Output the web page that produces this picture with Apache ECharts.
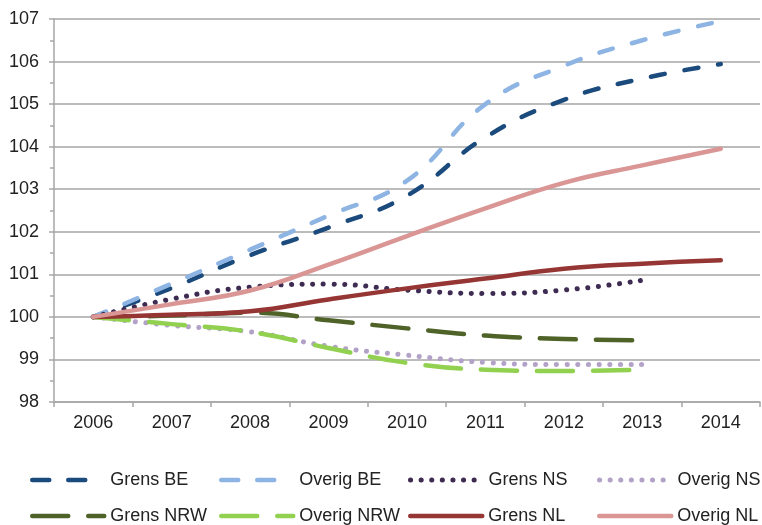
<!DOCTYPE html>
<html>
<head>
<meta charset="utf-8">
<script src="https://cdn.jsdelivr.net/npm/echarts@6/dist/echarts.min.js"></script>
<style>
  html, body { margin: 0; padding: 0; background: #fff; }
  #chart { width: 762px; height: 525px; }
</style>
</head>
<body>
<div id="chart"></div>
<script>
// Index (2006 = 100) per region
const years = ['2006', '2007', '2008', '2009', '2010', '2011', '2012', '2013', '2014'];
const yTicks = [98, 107, 1];

const grensBE   = [100, 100.68, 101.45, 102.1, 102.85, 104.22, 105.1, 105.6, 105.94];
const overigBE  = [100, 100.78, 101.58, 102.38, 103.2, 105.0, 105.9, 106.5, 106.95];
const grensNS   = [100, 100.42, 100.7, 100.77, 100.63, 100.55, 100.63, 100.86, null];
const overigNS  = [100, 99.8, 99.65, 99.31, 99.1, 98.93, 98.88, 98.88, null];
const grensNRW  = [100, 100.03, 100.1, 99.92, 99.73, 99.56, 99.48, 99.45, null];
const overigNRW = [100, 99.83, 99.65, 99.27, 98.92, 98.76, 98.73, 98.76, null];
const grensNL   = [100, 100.05, 100.13, 100.41, 100.67, 100.9, 101.13, 101.25, 101.33];
const overigNL  = [100, 100.3, 100.62, 101.23, 101.9, 102.55, 103.15, 103.56, 103.95];

const names = ['Grens BE', 'Overig BE', 'Grens NS', 'Overig NS',
               'Grens NRW', 'Overig NRW', 'Grens NL', 'Overig NL'];
const values = [grensBE, overigBE, grensNS, overigNS, grensNRW, overigNRW, grensNL, overigNL];

const colors = ['#1B4A7C', '#8DB4E2', '#3D2B52', '#B3A2C7',
                '#4F6228', '#92D050', '#963634', '#DA9694'];
const dashes = [[14, 20], [14, 20], [0.1, 10.5], [0.1, 10.5],
                [36, 20], [36, 20], 'solid', 'solid'];
// legend swatches show two dashes for the short-dash series
const legendDashes = [[17, 19, 17, 40], [17, 19, 17, 40], [0.1, 10.5], [0.1, 10.5],
                      [36, 20], [36, 20], 'solid', 'solid'];
const widths = [4.5, 4.5, 5, 5, 4.5, 4.5, 4.5, 4.5];

const FONT = '"Liberation Sans", Arial, sans-serif';
const GRAY = '#A6A6A6';

const lineStyleOf = (i, dash) => ({
  color: colors[i], width: widths[i], type: dash[i], cap: 'round', join: 'round'
});

const series = names.map((name, i) => ({
  name: name,
  type: 'line',
  data: values[i],
  smooth: 0.45,
  symbol: 'none',
  connectNulls: false,
  lineStyle: lineStyleOf(i, dashes),
  itemStyle: { color: colors[i] },
  emphasis: { disabled: true },
  z: 2 + i
}));

// Legend: two rows of four, fixed column positions
const colX = [30, 219, 408, 597];
const rowY = [471, 507];
const legends = names.map((name, i) => ({
  data: [name],
  left: colX[i % 4],
  top: rowY[Math.floor(i / 4)],
  itemWidth: 72,
  itemHeight: 6,
  itemGap: 0,
  padding: 0,
  selectedMode: false,
  itemStyle: { opacity: 0 },
  lineStyle: lineStyleOf(i, legendDashes),
  textStyle: { fontFamily: FONT, fontSize: 18, color: '#222', padding: [0, 0, 0, 1] }
}));

const chart = echarts.init(document.getElementById('chart'), null, { renderer: 'canvas' });
chart.setOption({
  animation: false,
  backgroundColor: '#fff',
  grid: { left: 54, right: 2, top: 19, bottom: 123, containLabel: false },
  legend: legends,
  xAxis: {
    type: 'category',
    data: years,
    boundaryGap: true,
    axisLine: { lineStyle: { color: GRAY, width: 1.5 } },
    axisTick: { show: true, interval: 0, length: 5, lineStyle: { color: GRAY, width: 1.5 } },
    axisLabel: { fontFamily: FONT, fontSize: 18, color: '#222', margin: 12 },
    splitLine: { show: false }
  },
  yAxis: {
    type: 'value',
    min: yTicks[0],
    max: yTicks[1],
    interval: yTicks[2],
    axisLine: { show: true, lineStyle: { color: GRAY, width: 1.5 } },
    axisTick: { show: true, length: 5, lineStyle: { color: GRAY, width: 1.5 } },
    minorTick: { show: true, splitNumber: 2, length: 4, lineStyle: { color: GRAY, width: 1.5 } },
    axisLabel: { fontFamily: FONT, fontSize: 18, color: '#222', margin: 15 },
    splitLine: { show: true, lineStyle: { color: GRAY, width: 1.5 } }
  },
  series: series
});
</script>
</body>
</html>
